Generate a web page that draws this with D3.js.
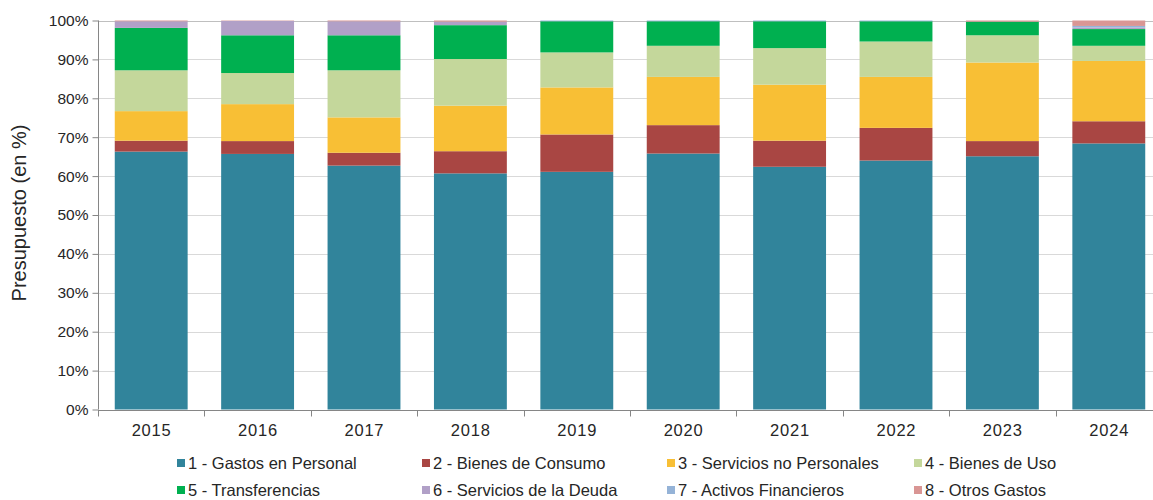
<!DOCTYPE html>
<html>
<head>
<meta charset="utf-8">
<script src="https://cdn.jsdelivr.net/npm/d3@7"></script>
<style>
  body { margin: 0; background: #fff; }
  text { font-family: "Liberation Sans", Arial, sans-serif; fill: #262626; }
</style>
</head>
<body>
<svg id="chart" width="1153" height="500"></svg>
<script>
// years on the x axis
var years = ["2015","2016","2017","2018","2019","2020","2021","2022","2023","2024"];

// series names (legend order)
var seriesNames = [
  "1 - Gastos en Personal",
  "2 - Bienes de Consumo",
  "3 - Servicios no Personales",
  "4 - Bienes de Uso",
  "5 - Transferencias",
  "6 - Servicios de la Deuda",
  "7 - Activos Financieros",
  "8 - Otros Gastos"
];

// values in %, one array per series
var gastosPersonal   = [66.3, 65.7, 62.7, 60.7, 61.1, 65.8, 62.4, 64.0, 65.1, 68.4];
var bienesConsumo    = [2.8, 3.3, 3.3, 5.7, 9.6, 7.3, 6.7, 8.4, 3.9, 5.7];
var serviciosNoPers  = [7.6, 9.5, 9.1, 11.7, 12.1, 12.4, 14.4, 13.1, 20.2, 15.5];
var bienesUso        = [10.5, 8.0, 12.1, 12.0, 9.0, 8.0, 9.4, 9.1, 7.0, 3.9];
var transferencias   = [10.9, 9.7, 9.0, 8.7, 8.0, 6.3, 6.9, 5.2, 3.5, 4.3];
var serviciosDeuda   = [1.7, 3.7, 3.6, 0.9, 0, 0, 0, 0, 0, 0.4];
var activosFinanc    = [0, 0, 0, 0, 0.2, 0.2, 0.2, 0.2, 0, 0.4];
var otrosGastos      = [0.2, 0.1, 0.2, 0.3, 0, 0, 0, 0, 0.3, 1.4];

var yTicks = [0,10,20,30,40,50,60,70,80,90,100];

var colors = ["#31849b","#a94643","#f8bf35","#c4d79b","#00b050","#b1a0c7","#95b3d7","#d99694"];

var seriesValues = [gastosPersonal, bienesConsumo, serviciosNoPers, bienesUso,
                    transferencias, serviciosDeuda, activosFinanc, otrosGastos];

// table for d3.stack
var table = years.map(function(yr, i){
  var row = {year: yr};
  seriesNames.forEach(function(s, j){ row[s] = seriesValues[j][i]; });
  return row;
});

var svg = d3.select("#chart");
var plotLeft = 98, plotRight = 1162, plotTop = 20.5, plotBottom = 409.5;

var x = d3.scaleBand().domain(years).range([plotLeft, plotRight]).paddingInner(0.315).paddingOuter(0.1575);
var y = d3.scaleLinear().domain([0, 1]).range([plotBottom, plotTop]);

var stacked = d3.stack().keys(seriesNames).offset(d3.stackOffsetExpand)(table);

// gridlines
svg.append("g").selectAll("line")
  .data(yTicks)
  .enter().append("line")
  .attr("x1", plotLeft).attr("x2", 1153)
  .attr("y1", function(d){ return Math.round(y(d/100)) + 0.5; })
  .attr("y2", function(d){ return Math.round(y(d/100)) + 0.5; })
  .attr("stroke", function(d){ return d == 100 ? "#bfbfbf" : "#d9d9d9"; })
  .attr("stroke-width", 1);

// bars
svg.append("g").selectAll("g")
  .data(stacked)
  .enter().append("g")
  .attr("fill", function(d, i){ return colors[i]; })
  .selectAll("rect")
  .data(function(d){ return d; })
  .enter().append("rect")
  .attr("x", function(d){ return x(d.data.year); })
  .attr("width", x.bandwidth())
  .attr("y", function(d){ return y(d[1]); })
  .attr("height", function(d){ return Math.max(0, y(d[0]) - y(d[1])); });

// y axis
var yAxis = d3.axisLeft(y)
  .tickValues(yTicks.map(function(d){ return d/100; }))
  .tickFormat(function(d){ return Math.round(d*100) + "%"; })
  .tickSize(6).tickPadding(4);
var gy = svg.append("g").attr("transform", "translate(" + (plotLeft + 0.5) + ",0)").call(yAxis);
gy.select(".domain").attr("stroke", "#868686").attr("d", "M0," + plotTop + "V" + plotBottom);
gy.selectAll(".tick line").attr("stroke", "#868686");
gy.selectAll("text").style("font-size", "15.5px").attr("fill", "#262626")
  .style("font-family", "'Liberation Sans', Arial, sans-serif");

// x axis with tick marks between bands
var gx = svg.append("g").attr("transform", "translate(0," + (Math.round(plotBottom) + 0.5) + ")");
gx.append("line").attr("x1", plotLeft).attr("x2", 1153).attr("stroke", "#868686");
var step = x.step();
gx.selectAll(".xt")
  .data(years)
  .enter().append("line")
  .attr("class", "xt")
  .attr("x1", function(d, i){ return Math.round(plotLeft + i*step) + 0.5; })
  .attr("x2", function(d, i){ return Math.round(plotLeft + i*step) + 0.5; })
  .attr("y1", 0).attr("y2", 6)
  .attr("stroke", "#868686");
gx.selectAll(".xl")
  .data(years)
  .enter().append("text")
  .attr("class", "xl")
  .attr("x", function(d){ return x(d) + x.bandwidth()/2 + 0.4; })
  .attr("y", 25)
  .attr("text-anchor", "middle")
  .style("font-size", "16.5px")
  .style("letter-spacing", "0.8px")
  .text(function(d){ return d; });

// y axis title
svg.append("text")
  .attr("transform", "translate(26," + ((plotTop + plotBottom)/2 - 2) + ") rotate(-90)")
  .attr("text-anchor", "middle")
  .style("font-size", "20px")
  .text("Presupuesto (en %)");

// legend, 4 columns x 2 rows
var legendX = [177, 422, 667, 914], legendY = [463, 490];
var legend = svg.append("g").selectAll("g")
  .data(seriesNames)
  .enter().append("g")
  .attr("transform", function(d, i){ return "translate(" + legendX[i % 4] + "," + legendY[Math.floor(i / 4)] + ")"; });
legend.append("rect")
  .attr("x", 0).attr("y", -4).attr("width", 8).attr("height", 8)
  .attr("fill", function(d, i){ return colors[i]; });
legend.append("text")
  .attr("x", 11).attr("y", 6)
  .style("font-size", "16.5px")
  .text(function(d){ return d; });
</script>
</body>
</html>
